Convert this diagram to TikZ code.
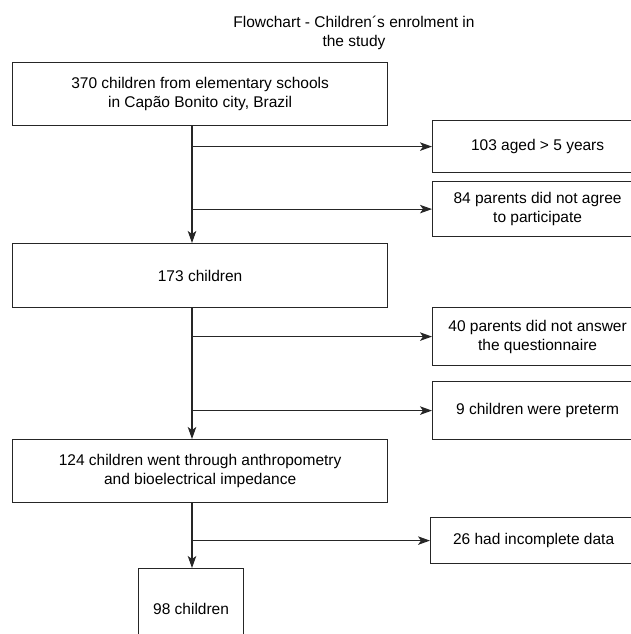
\documentclass[tikz,border=0pt]{standalone}
\usepackage{fontspec}
\setmainfont{Liberation Sans}
\usetikzlibrary{arrows.meta}

\begin{document}
\begin{tikzpicture}[x=1pt, y=-1pt,
    font=\fontsize{15.5}{19}\selectfont,
    box/.style={draw=black!85, line width=1.2pt, align=center, inner sep=0pt, anchor=north west},
    arr/.style={-{Stealth[length=12pt,width=8.5pt,inset=3pt]}, line width=1.1pt, draw=black!85, fill=black!85}]

    % Рамка картинки
    \useasboundingbox (0,0) rectangle (631,634);
    \clip (0,0) rectangle (631,634);

    % Заголовок
    \node[align=center] (title) at (354,32.5)
        {Flowchart - Children´s enrolment in\\the study};

    % Основная колонка
    \node[box, minimum width=375pt, minimum height=63pt] (n370) at (12,62)
        {370 children from elementary schools\\in Capão Bonito city, Brazil};
    \node[box, minimum width=375pt, minimum height=64pt] (n173) at (12,243)
        {173 children};
    \node[box, minimum width=375pt, minimum height=63pt] (n124) at (12,439)
        {124 children went through anthropometry\\and bioelectrical impedance};
    \node[box, minimum width=105pt, minimum height=80pt] (n98) at (138,568)
        {98 children};

    % Исключённые (справа)
    \node[box, minimum width=210pt, minimum height=52pt] (n103) at (432,120)
        {103 aged > 5 years};
    \node[box, minimum width=210pt, minimum height=55pt] (n84) at (432,181)
        {84 parents did not agree\\to participate};
    \node[box, minimum width=210pt, minimum height=58pt] (n40) at (432,307)
        {40 parents did not answer\\the questionnaire};
    \node[box, minimum width=210pt, minimum height=58pt] (n9) at (432,381)
        {9 children were preterm};
    \node[box, minimum width=206pt, minimum height=46pt] (n26) at (430,517)
        {26 had incomplete data};

    % Вертикальная линия
    \coordinate (trunk) at (192,0);
    \draw[arr] (n370.south -| trunk) -- (n173.north -| trunk);
    \draw[arr] (n173.south -| trunk) -- (n124.north -| trunk);
    \draw[arr] (n124.south -| trunk) -- (n98.north -| trunk);

    % Стрелки вправо
    \draw[arr] (trunk |- n103.west) -- (n103.west);
    \draw[arr] (trunk |- n84.west)  -- (n84.west);
    \draw[arr] (trunk |- n40.west)  -- (n40.west);
    \draw[arr] (trunk |- n9.west)   -- (n9.west);
    \draw[arr] (trunk |- n26.west)  -- (n26.west);

\end{tikzpicture}
\end{document}
